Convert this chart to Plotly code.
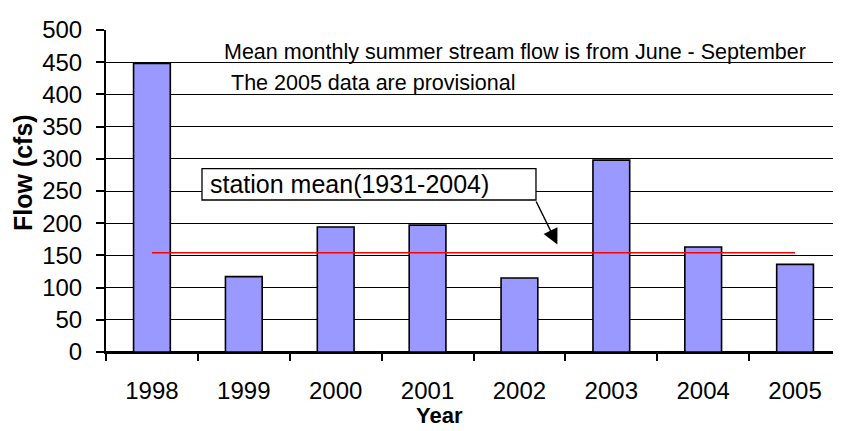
import plotly.graph_objects as go

years = ["1998", "1999", "2000", "2001", "2002", "2003", "2004", "2005"]
flow = [448, 117, 194, 197, 115, 298, 163, 136]
station_mean = 154
y_ticks = [0, 50, 100, 150, 200, 250, 300, 350, 400, 450, 500]

FONT = "Liberation Sans, Arial, sans-serif"

fig = go.Figure()
fig.add_trace(go.Bar(
    x=years, y=flow,
    marker=dict(color="#9999FF", line=dict(color="black", width=1.6)),
    width=0.4, showlegend=False,
))
fig.add_trace(go.Scatter(
    x=[years[0], years[-1]], y=[station_mean, station_mean],
    mode="lines", line=dict(color="#FF0000", width=1.6), showlegend=False,
))

fig.add_annotation(x=0.158, xref="paper", y=466, yref="y", xanchor="left",
                   text="Mean monthly summer stream flow is from June - September",
                   showarrow=False, font=dict(family=FONT, size=21.5, color="black"))
fig.add_annotation(x=0.167, xref="paper", y=417, yref="y", xanchor="left",
                   text="The 2005 data are provisional",
                   showarrow=False, font=dict(family=FONT, size=21.5, color="black"))

# label box
fig.add_shape(type="rect", xref="paper", yref="y",
              x0=0.1306, x1=0.585, y0=236, y1=284.6,
              line=dict(color="black", width=1.3), fillcolor="white", layer="above")
fig.add_annotation(x=0.1392, xref="paper", y=261, yref="y", xanchor="left",
                   text="station mean(1931-2004)", showarrow=False,
                   font=dict(family=FONT, size=25, color="black"))
fig.add_annotation(x=4.413, y=167, xref="x", yref="y",
                   ax=4.174, ay=236, axref="x", ayref="y",
                   text="", showarrow=True, arrowhead=2, arrowsize=2.2,
                   arrowwidth=1.4, arrowcolor="black")

# axis titles (positioned like the original chart)
fig.add_annotation(x=-0.1129, xref="paper", y=278, yref="y",
                   text="<b>Flow (cfs)</b>", textangle=-90, showarrow=False,
                   xanchor="center", yanchor="middle",
                   font=dict(family=FONT, size=25, color="black"))
fig.add_annotation(x=0.4544, xref="paper", y=-0.198, yref="paper",
                   text="<b>Year</b>", showarrow=False,
                   xanchor="center", yanchor="middle",
                   font=dict(family=FONT, size=22, color="black"))

fig.update_layout(
    width=841, height=431,
    margin=dict(l=98, r=8, t=15, b=87),
    plot_bgcolor="white", paper_bgcolor="white",
    font=dict(family=FONT, size=24, color="black"),
    bargap=0.6,
)
fig.update_xaxes(
    type="category", showgrid=False,
    showline=True, linecolor="black", linewidth=2,
    ticks="outside", tickson="boundaries", ticklen=7, tickwidth=2, tickcolor="black",
    ticklabelstandoff=16,
    tickfont=dict(family=FONT, size=24),
)
fig.update_yaxes(
    range=[0, 500], tickvals=y_ticks,
    showgrid=True, gridcolor="black", gridwidth=1.2,
    zeroline=True, zerolinecolor="black", zerolinewidth=2,
    showline=True, linecolor="black", linewidth=2,
    ticks="outside", ticklen=8, tickwidth=2, tickcolor="black",
    ticklabelstandoff=9,
    tickfont=dict(family=FONT, size=24),
)

fig.write_html("out.html")
